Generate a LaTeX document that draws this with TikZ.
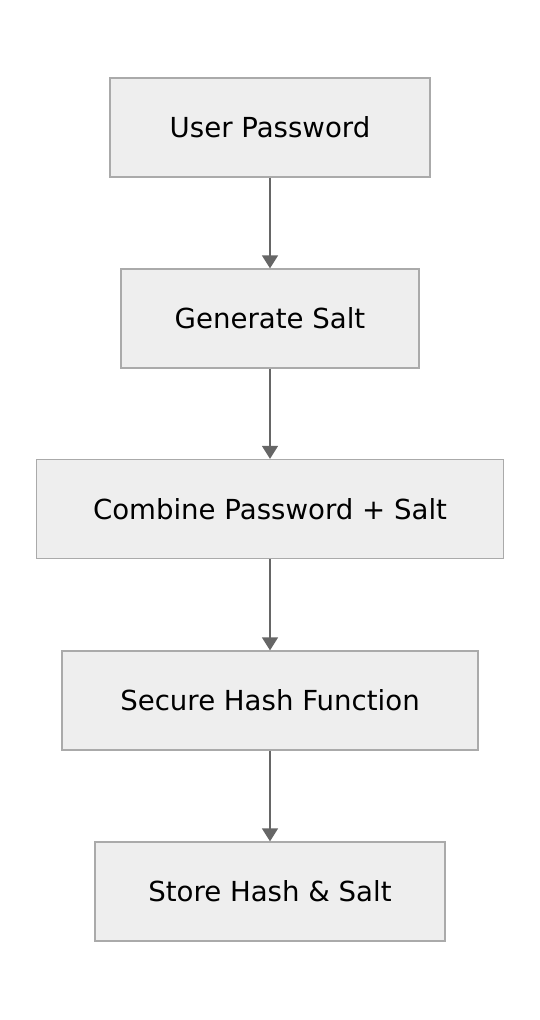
\documentclass[tikz,border=0pt]{standalone}
\usepackage{fontspec}
\setmainfont{DejaVu Sans}
\usetikzlibrary{arrows.meta}
\definecolor{boxfill}{HTML}{EEEEEE}
\definecolor{boxline}{HTML}{AAAAAA}
\definecolor{arrowc}{HTML}{666666}
\tikzset{
  stepbox/.style={draw=boxline, fill=boxfill, line width=1.3pt, minimum height=99pt, inner sep=0pt, font=\fontsize{27.6}{32}\selectfont},
  flow/.style={draw=arrowc, line width=1.5pt, -{Triangle[length=13pt,width=16pt]}}
}
\begin{document}
\begin{tikzpicture}[x=1pt,y=-1pt]
\useasboundingbox (0,0) rectangle (540,1020);
\node[stepbox, minimum width=320pt] (a) at (270,127.5) {User Password};
\node[stepbox, minimum width=298pt] (b) at (270,318.5) {Generate Salt};
\node[stepbox, minimum width=467pt] (c) at (270,509) {Combine Password + Salt};
\node[stepbox, minimum width=416pt] (d) at (270,700.5) {Secure Hash Function};
\node[stepbox, minimum width=350pt] (e) at (270,891.5) {Store Hash \& Salt};
\draw[flow] (a) -- (b);
\draw[flow] (b) -- (c);
\draw[flow] (c) -- (d);
\draw[flow] (d) -- (e);
\end{tikzpicture}
\end{document}
